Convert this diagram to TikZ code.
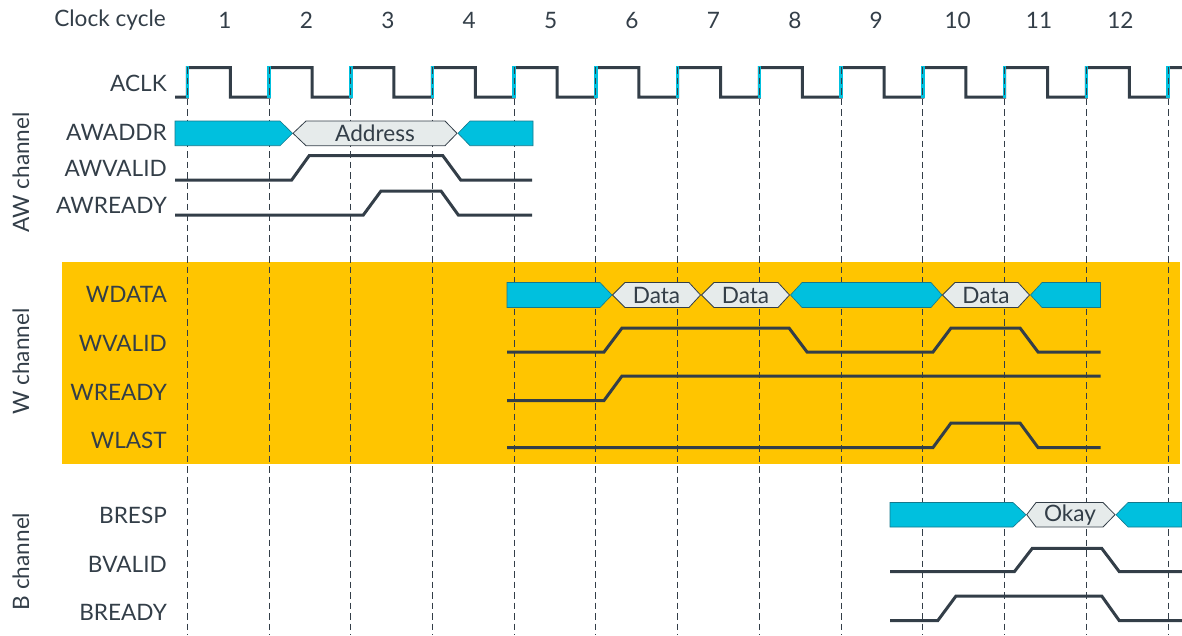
\documentclass[tikz,border=0pt]{standalone}
\usepackage{fontspec}
\setmainfont{Lato}
\definecolor{ink}{RGB}{51,62,72}
\definecolor{busc}{RGB}{0,192,222}
\definecolor{busedge}{RGB}{20,120,140}
\definecolor{hexg}{RGB}{230,235,235}
\definecolor{band}{RGB}{255,197,0}
\newcommand\lbsize{\fontsize{22.6}{27}\selectfont}
\begin{document}
\begin{tikzpicture}[x=1pt,y=-1pt,
  sig/.style={line width=3pt, draw=ink},
  cyanbus/.style={fill=busc, draw=busedge, line width=0.6pt},
  hexbus/.style={fill=hexg, draw=ink, line width=0.8pt},
  dashline/.style={draw=ink, line width=1pt, dash pattern=on 6.5pt off 4pt},
  marker/.style={draw=busc, line width=3.5pt},
  txt/.style={text=ink, font=\lbsize, inner sep=0pt},
  lbl/.style={txt, anchor=east}]
\useasboundingbox (0,0) rectangle (1182,635);
% W channel band
\fill[band] (62,262) rectangle (1180,464);
% clock
\draw[sig] (175,97) -- (187.3,97)
  \foreach \k in {0,...,11}{ -- ({187.3+81.73*\k},67.5) -- ({230.3+81.73*\k},67.5)
  -- ({230.3+81.73*\k},97) -- ({187.3+81.73*\k+81.73},97) }
  -- (1168.1,67.5) -- (1182,67.5);
\foreach \k in {0,...,12}{ \draw[marker] ({187.3+81.73*\k},66) -- ++(0,32); }
% dashed cycle lines
\foreach \k in {0,...,12}{ \draw[dashline] ({187.3+81.73*\k},67) -- ({187.3+81.73*\k},635); }
% header
\node[txt, anchor=east] (cc) at (166,20) {Clock cycle};
\foreach \k in {1,...,12}{ \node[txt] (c\k) at ({225+81.4*(\k-1)},20) {\k}; }
% group labels
\node[txt, rotate=90] (awch) at (21,172.5) {AW channel};
\node[txt, rotate=90] (wch) at (21,361.5) {W channel};
\node[txt, rotate=90] (bch) at (21,561.5) {B channel};
% signal labels
\node[lbl] (laclk) at (167,83) {ACLK};
\node[lbl] (lawaddr) at (167,132) {AWADDR};
\node[lbl] (lawvalid) at (167,168.5) {AWVALID};
\node[lbl] (lawready) at (167,205.5) {AWREADY};
\node[lbl] (lwdata) at (167,294.5) {WDATA};
\node[lbl] (lwvalid) at (167,343.5) {WVALID};
\node[lbl] (lwready) at (167,392) {WREADY};
\node[lbl] (lwlast) at (167,440) {WLAST};
\node[lbl] (lbresp) at (167,515) {BRESP};
\node[lbl] (lbvalid) at (167,564) {BVALID};
\node[lbl] (lbready) at (167,612.5) {BREADY};
% AWADDR bus
\draw[cyanbus] (175,121) -- (280,121) -- (292.5,133.3) -- (280,145.7) -- (175,145.7) -- cycle;
\draw[hexbus] (293,133.3) -- (306,121) -- (445,121) -- (457,133.3) -- (445,145.7) -- (306,145.7) -- cycle;
\node[txt] (addr) at (375,133.3) {Address};
\draw[cyanbus] (458,133.3) -- (470,121) -- (533,121) -- (533,145.7) -- (470,145.7) -- cycle;
% AWVALID / AWREADY
\draw[sig] (175,180) -- (291.7,180) -- (309.3,155.5) -- (442.7,155.5) -- (460.7,180) -- (532,180);
\draw[sig] (175,215) -- (363.3,215) -- (381,191) -- (441,191) -- (458.3,215) -- (532,215);
% WDATA bus
\draw[cyanbus] (507,282.5) -- (600,282.5) -- (612,295) -- (600,307.5) -- (507,307.5) -- cycle;
\draw[hexbus] (612.5,295) -- (625,282.5) -- (689,282.5) -- (700.5,295) -- (689,307.5) -- (625,307.5) -- cycle;
\node[txt] (d1) at (656.5,295) {Data};
\draw[hexbus] (701.5,295) -- (714,282.5) -- (778,282.5) -- (789.5,295) -- (778,307.5) -- (714,307.5) -- cycle;
\node[txt] (d2) at (745.5,295) {Data};
\draw[cyanbus] (790.5,295) -- (802,282.5) -- (931,282.5) -- (942,295) -- (931,307.5) -- (802,307.5) -- cycle;
\draw[hexbus] (942.5,295) -- (955,282.5) -- (1018,282.5) -- (1029.5,295) -- (1018,307.5) -- (955,307.5) -- cycle;
\node[txt] (d3) at (986,295) {Data};
\draw[cyanbus] (1030.5,295) -- (1042,282.5) -- (1100.5,282.5) -- (1100.5,307.5) -- (1042,307.5) -- cycle;
% W signals
\draw[sig] (507,352) -- (604,352) -- (622,328) -- (789,328) -- (807,352) -- (933,352) -- (951,328) -- (1020,328) -- (1038,352) -- (1100.5,352);
\draw[sig] (507,400.5) -- (604,400.5) -- (622,376) -- (1100.5,376);
\draw[sig] (507,447.5) -- (933,447.5) -- (951,423) -- (1020,423) -- (1038,447.5) -- (1100.5,447.5);
% BRESP bus
\draw[cyanbus] (890,502.5) -- (1013,502.5) -- (1026,514.7) -- (1013,527) -- (890,527) -- cycle;
\draw[hexbus] (1026.7,514.7) -- (1036,502.5) -- (1103,502.5) -- (1115,514.7) -- (1103,527) -- (1036,527) -- cycle;
\node[txt] (okay) at (1070,514.7) {Okay};
\draw[cyanbus] (1116,514.7) -- (1128,502.5) -- (1182,502.5) -- (1182,527) -- (1128,527) -- cycle;
% B signals
\draw[sig] (890,571.7) -- (1014.3,571.7) -- (1032.3,548.3) -- (1101.7,548.3) -- (1119.3,571.7) -- (1182,571.7);
\draw[sig] (890,620.7) -- (937.7,620.7) -- (956,596) -- (1101.7,596) -- (1119.3,620.7) -- (1182,620.7);
\end{tikzpicture}
\end{document}
